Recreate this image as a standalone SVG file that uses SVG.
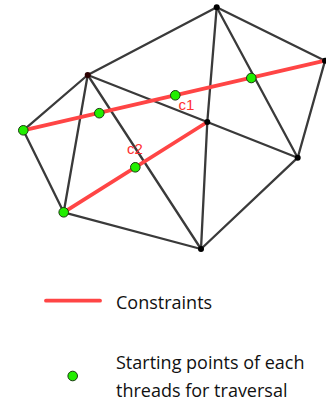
<svg xmlns="http://www.w3.org/2000/svg" width="326" height="402" viewBox="0 0 326 402">
<style>
.e{stroke:#3a3a3a;stroke-width:2.3;stroke-linecap:round;fill:none}
.c{stroke:#ff4545;stroke-width:3.8;stroke-linecap:round;fill:none}
.v{fill:#000}
.g{fill:#22ee00;stroke:#1a3a10;stroke-width:1}
.lbl{font-family:"Liberation Sans",Arial,sans-serif;font-size:15px;fill:#ff3030}
.lg{font-family:"Open Sans","Liberation Sans",sans-serif;font-size:18px;fill:#111}
</style>
<rect width="326" height="402" fill="#fff"/>
<g id="connectors">
<line class="e" x1="87.7" y1="75" x2="216.7" y2="7.3"/>
<line class="e" x1="216.7" y1="7.3" x2="325" y2="60.7"/>
<line class="e" x1="87.7" y1="75" x2="23.3" y2="130.3"/>
<line class="e" x1="23.3" y1="130.3" x2="63.7" y2="212.3"/>
<line class="e" x1="87.7" y1="75" x2="63.7" y2="212.3"/>
<line class="e" x1="87.7" y1="75" x2="201" y2="249"/>
<line class="e" x1="87.7" y1="75" x2="207.3" y2="122"/>
<line class="e" x1="207.3" y1="122" x2="297.7" y2="157.7"/>
<line class="e" x1="216.7" y1="7.3" x2="207.3" y2="122"/>
<line class="e" x1="216.7" y1="7.3" x2="297.7" y2="157.7"/>
<line class="e" x1="325" y1="60.7" x2="297.7" y2="157.7"/>
<line class="e" x1="207.3" y1="122" x2="201" y2="249"/>
<line class="e" x1="297.7" y1="157.7" x2="201" y2="249"/>
<line class="e" x1="63.7" y1="212.3" x2="201" y2="249"/>
<line class="c" x1="23.3" y1="130.3" x2="325" y2="60.7"/>
<line class="c" x1="63.7" y1="212.3" x2="207.3" y2="122"/>
</g>
<g id="vertices">
<circle class="v" cx="216.7" cy="7.3" r="3"/>
<circle cx="87.7" cy="75" r="3" fill="#2a0000"/>
<circle class="v" cx="325" cy="60.7" r="3"/>
<circle class="v" cx="207.3" cy="122" r="3"/>
<circle class="v" cx="297.7" cy="157.7" r="3"/>
<circle class="v" cx="201" cy="249" r="3"/>
</g>
<g id="starts">
<circle class="g" cx="23.3" cy="130.3" r="4.8"/>
<circle class="g" cx="63.7" cy="212.3" r="4.8"/>
<circle class="g" cx="99.3" cy="113.2" r="4.8"/>
<circle class="g" cx="175.3" cy="95.3" r="4.8"/>
<circle class="g" cx="251.3" cy="78" r="4.8"/>
<circle class="g" cx="135.3" cy="167.3" r="4.8"/>
</g>
<g id="labels">
<text class="lbl" x="178.5" y="110">c1</text>
<text class="lbl" x="127" y="154">c2</text>
</g>
<g id="legend">
<line class="c" x1="46" y1="300.7" x2="100" y2="300.7" stroke-width="3.2"/>
<text class="lg" x="116" y="309">Constraints</text>
<circle class="g" cx="72.7" cy="376" r="4.8"/>
<text class="lg" x="116" y="368.5">Starting points of each</text>
<text class="lg" x="116" y="396.5">threads for traversal</text>
</g>
</svg>
